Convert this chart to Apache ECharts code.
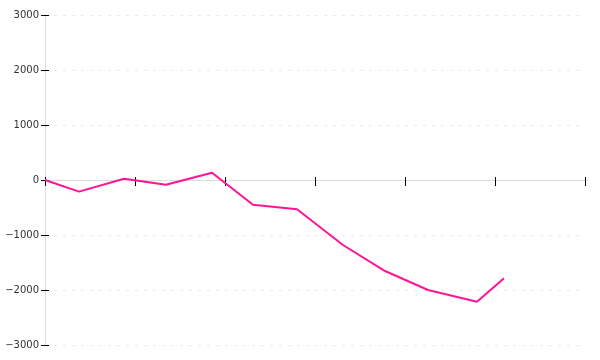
<!DOCTYPE html>
<html><head><meta charset="utf-8">
<script src="https://cdn.jsdelivr.net/npm/echarts@6/dist/echarts.min.js"></script>
<style>html,body{margin:0;padding:0;background:#fff}#c{width:600px;height:360px}</style>
</head><body><div id="c"></div>
<script>
const xValues = [0, 0.378, 0.878, 1.344, 1.856, 2.311, 2.8, 3.311, 3.778, 4.256, 4.8, 5.1];
const yValues = [0, -212, 24, -85, 133, -449, -533, -1182, -1655, -2000, -2212, -1788];
const yTicks = [-3000, -2000, -1000, 0, 1000, 2000, 3000];

const chart = echarts.init(document.getElementById('c'), null, {renderer: 'canvas'});
const axisGray = '#dcdcdc';
const baseX = {
  type: 'value', min: 0, max: 6, interval: 1,
  axisLine: {show: true, onZero: true, lineStyle: {color: axisGray, width: 1}},
  axisLabel: {show: false},
  splitLine: {show: false}
};
const baseY = {
  type: 'value', min: yTicks[0], max: yTicks[yTicks.length - 1], interval: 1000,
  axisLine: {show: true, lineStyle: {color: axisGray, width: 1}},
  splitLine: {show: false}
};
chart.setOption({
  animation: false,
  grid: {left: 45, right: 15, top: 15, bottom: 15, containLabel: false},
  xAxis: [
    Object.assign({}, baseX, {axisTick: {show: true, inside: false, length: 6, lineStyle: {color: '#000'}}}),
    Object.assign({}, baseX, {position: 'bottom', axisTick: {show: true, inside: true, length: 3, lineStyle: {color: '#000'}}})
  ],
  yAxis: [
    Object.assign({}, baseY, {
      axisTick: {show: true, inside: false, length: 4, lineStyle: {color: '#000'}},
      axisLabel: {show: true, margin: 6, color: '#333', fontSize: 10, fontFamily: 'DejaVu Sans',
        formatter: v => String(v).replace('-', '\u2212')},
      splitLine: {show: true, lineStyle: {color: '#ebebeb', type: [3, 6], width: 1}}
    }),
    Object.assign({}, baseY, {position: 'left', axisLabel: {show: false},
      axisTick: {show: true, inside: true, length: 4, lineStyle: {color: '#000'}}})
  ],
  series: [{
    type: 'line',
    data: xValues.map((x, i) => [x, yValues[i]]),
    symbol: 'none',
    lineStyle: {color: '#ff1493', width: 2},
    xAxisIndex: 0, yAxisIndex: 0
  }]
});
</script></body></html>
